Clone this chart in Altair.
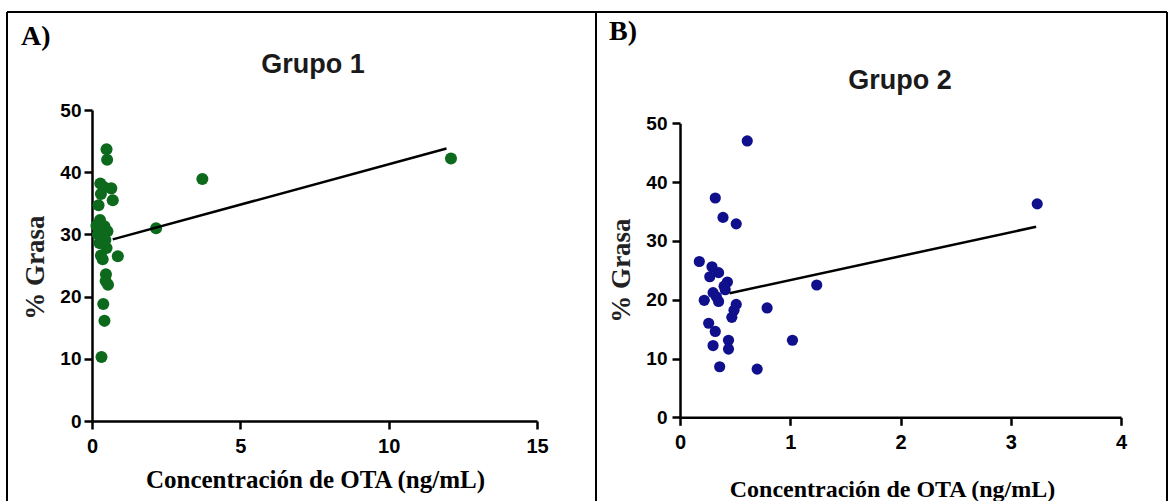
import altair as alt
import pandas as pd

# ---------------- data ----------------
g1_x = [0.49, 0.51, 0.28, 0.40, 0.65, 0.30, 0.70, 0.22, 0.27, 0.15, 0.42, 0.52,
        0.20, 0.35, 0.45, 0.25, 0.49, 0.30, 0.36, 0.87, 0.47, 0.46, 0.54, 0.38,
        0.42, 0.32, 2.16, 3.72, 12.1]
g1_y = [43.7, 42.0, 38.2, 37.6, 37.4, 36.5, 35.5, 34.7, 32.3, 31.4, 31.3, 30.5,
        30.0, 29.6, 29.1, 28.6, 27.8, 26.6, 26.0, 26.5, 23.6, 22.5, 21.9, 18.8,
        16.1, 10.3, 31.0, 38.9, 42.2]
g1_fit_x = [0.70, 11.95]
g1_fit_y = [29.2, 43.8]

g2_x = [0.61, 0.32, 0.39, 0.51, 0.175, 0.29, 0.35, 0.27, 0.43, 0.41, 0.30, 0.22,
        0.35, 0.51, 0.49, 0.47, 0.79, 0.26, 0.32, 0.30, 0.44, 0.44, 0.36, 0.70,
        1.02, 1.24, 3.24, 0.33, 0.40]
g2_y = [47.0, 37.3, 34.0, 32.9, 26.5, 25.6, 24.6, 23.9, 23.0, 21.7, 21.2, 19.9,
        19.7, 19.2, 18.2, 17.0, 18.6, 16.0, 14.6, 12.2, 13.1, 11.6, 8.6, 8.2,
        13.1, 22.5, 36.3, 20.5, 22.3]
g2_fit_x = [0.45, 3.23]
g2_fit_y = [21.1, 32.4]

x1_ticks = [0, 5, 10, 15]
x2_ticks = [0, 1, 2, 3, 4]
y_ticks = [0, 10, 20, 30, 40, 50]

panel_titles = ["Grupo 1", "Grupo 2"]
panel_letters = ["A)", "B)"]
x_title = "Concentración de OTA (ng/mL)"
y_title = "% Grasa"

W, H = 1170, 501
SANS = "Liberation Sans"
SERIF = "Liberation Serif"

df1 = pd.DataFrame({"x": g1_x, "y": g1_y})
df1_fit = pd.DataFrame({"x": g1_fit_x, "y": g1_fit_y})
df2 = pd.DataFrame({"x": g2_x, "y": g2_y})
df2_fit = pd.DataFrame({"x": g2_fit_x, "y": g2_fit_y})


def x_axis(values, offset, title_x, title_y, title_size):
    return alt.Axis(values=values, orient="bottom", offset=offset, format="d",
                    title=x_title, titleFont=SERIF, titleFontWeight="bold",
                    titleFontSize=title_size, titleColor="black",
                    titleX=title_x, titleY=title_y, titleAlign="center",
                    titleBaseline="alphabetic", titleAngle=0,
                    labelFont=SANS, labelFontWeight="bold", labelFontSize=20,
                    labelColor="black", labelPadding=7, labelOverlap=False,
                    labelFlush=False,
                    domainColor="black", domainWidth=2.5, tickColor="black",
                    tickWidth=2.5, tickSize=8, grid=False)


def y_axis(offset, title_x, title_y, pad):
    return alt.Axis(values=y_ticks, orient="left", offset=offset, format="d",
                    title=y_title, titleFont=SERIF, titleFontWeight="bold",
                    titleFontSize=27, titleColor="#222222",
                    titleX=title_x, titleY=title_y, titleAngle=270,
                    titleAlign="center", titleBaseline="middle",
                    labelFont=SANS, labelFontWeight="bold", labelFontSize=19,
                    labelColor="black", labelPadding=pad, labelOverlap=False,
                    labelFlush=False,
                    domainColor="black", domainWidth=2.5, tickColor="black",
                    tickWidth=2.5, tickSize=8, grid=False)


# panel A scales (pixel ranges inside the 1170x501 canvas)
xa = alt.Scale(domain=[0, 15], range=[92, 537], nice=False, zero=False)
ya = alt.Scale(domain=[0, 50], range=[421, 110], nice=False, zero=False)
xb = alt.Scale(domain=[0, 4], range=[680, 1121], nice=False, zero=False)
yb = alt.Scale(domain=[0, 50], range=[417.3, 123.3], nice=False, zero=False)

ax_a = x_axis(x1_ticks, -80, 315, 66, 25)
ay_a = y_axis(-92, -57, 267, 3)
ax_b = x_axis(x2_ticks, -83.7, 892, 79.5, 24)
ay_b = y_axis(-680, -59, 270, 5)

pts_a = alt.Chart(df1).mark_circle(size=145, opacity=1, color="#0d6a1c").encode(
    x=alt.X("x:Q", scale=xa, axis=ax_a),
    y=alt.Y("y:Q", scale=ya, axis=ay_a),
)
fit_a = alt.Chart(df1_fit).mark_line(color="black", strokeWidth=2.5).encode(
    x=alt.X("x:Q", scale=xa, axis=ax_a),
    y=alt.Y("y:Q", scale=ya, axis=ay_a),
)
panel_a = alt.layer(pts_a, fit_a)

pts_b = alt.Chart(df2).mark_circle(size=125, opacity=1, color="#10108c").encode(
    x=alt.X("x:Q", scale=xb, axis=ax_b),
    y=alt.Y("y:Q", scale=yb, axis=ay_b),
)
fit_b = alt.Chart(df2_fit).mark_line(color="black", strokeWidth=2.5).encode(
    x=alt.X("x:Q", scale=xb, axis=ax_b),
    y=alt.Y("y:Q", scale=yb, axis=ay_b),
)
panel_b = alt.layer(pts_b, fit_b)

one = pd.DataFrame({"k": [0]})


def rule(x, x2, y, y2):
    return alt.Chart(one).mark_rule(color="black", strokeWidth=2).encode(
        x=alt.value(x), x2=alt.value(x2), y=alt.value(y), y2=alt.value(y2))


borders = [
    rule(7, 1167, 12, 12),
    rule(7, 7, 12, 501),
    rule(596, 596, 12, 501),
    rule(1167, 1167, 12, 501),
]


def label(text, x, y, font, size, color, align="center"):
    return alt.Chart(pd.DataFrame({"t": [text]})).mark_text(
        font=font, fontWeight="bold", fontSize=size, color=color,
        align=align, baseline="alphabetic").encode(
        text="t:N", x=alt.value(x), y=alt.value(y))


texts = [
    label(panel_titles[0], 313, 73, SANS, 27, "#1a1a1a"),
    label(panel_titles[1], 900, 89, SANS, 27, "#1a1a1a"),
    label(panel_letters[0], 21, 45, SERIF, 28, "black", "left"),
    label(panel_letters[1], 609, 40, SERIF, 28, "black", "left"),
]

chart = alt.layer(panel_a, panel_b, *borders, *texts).resolve_scale(
    x="independent", y="independent"
).properties(
    width=W, height=H, padding=0, autosize=alt.AutoSizeParams(type="none"),
    background="white"
).configure_view(stroke=None)

chart.save("out.html", embed_options={"renderer": "svg", "actions": False})
